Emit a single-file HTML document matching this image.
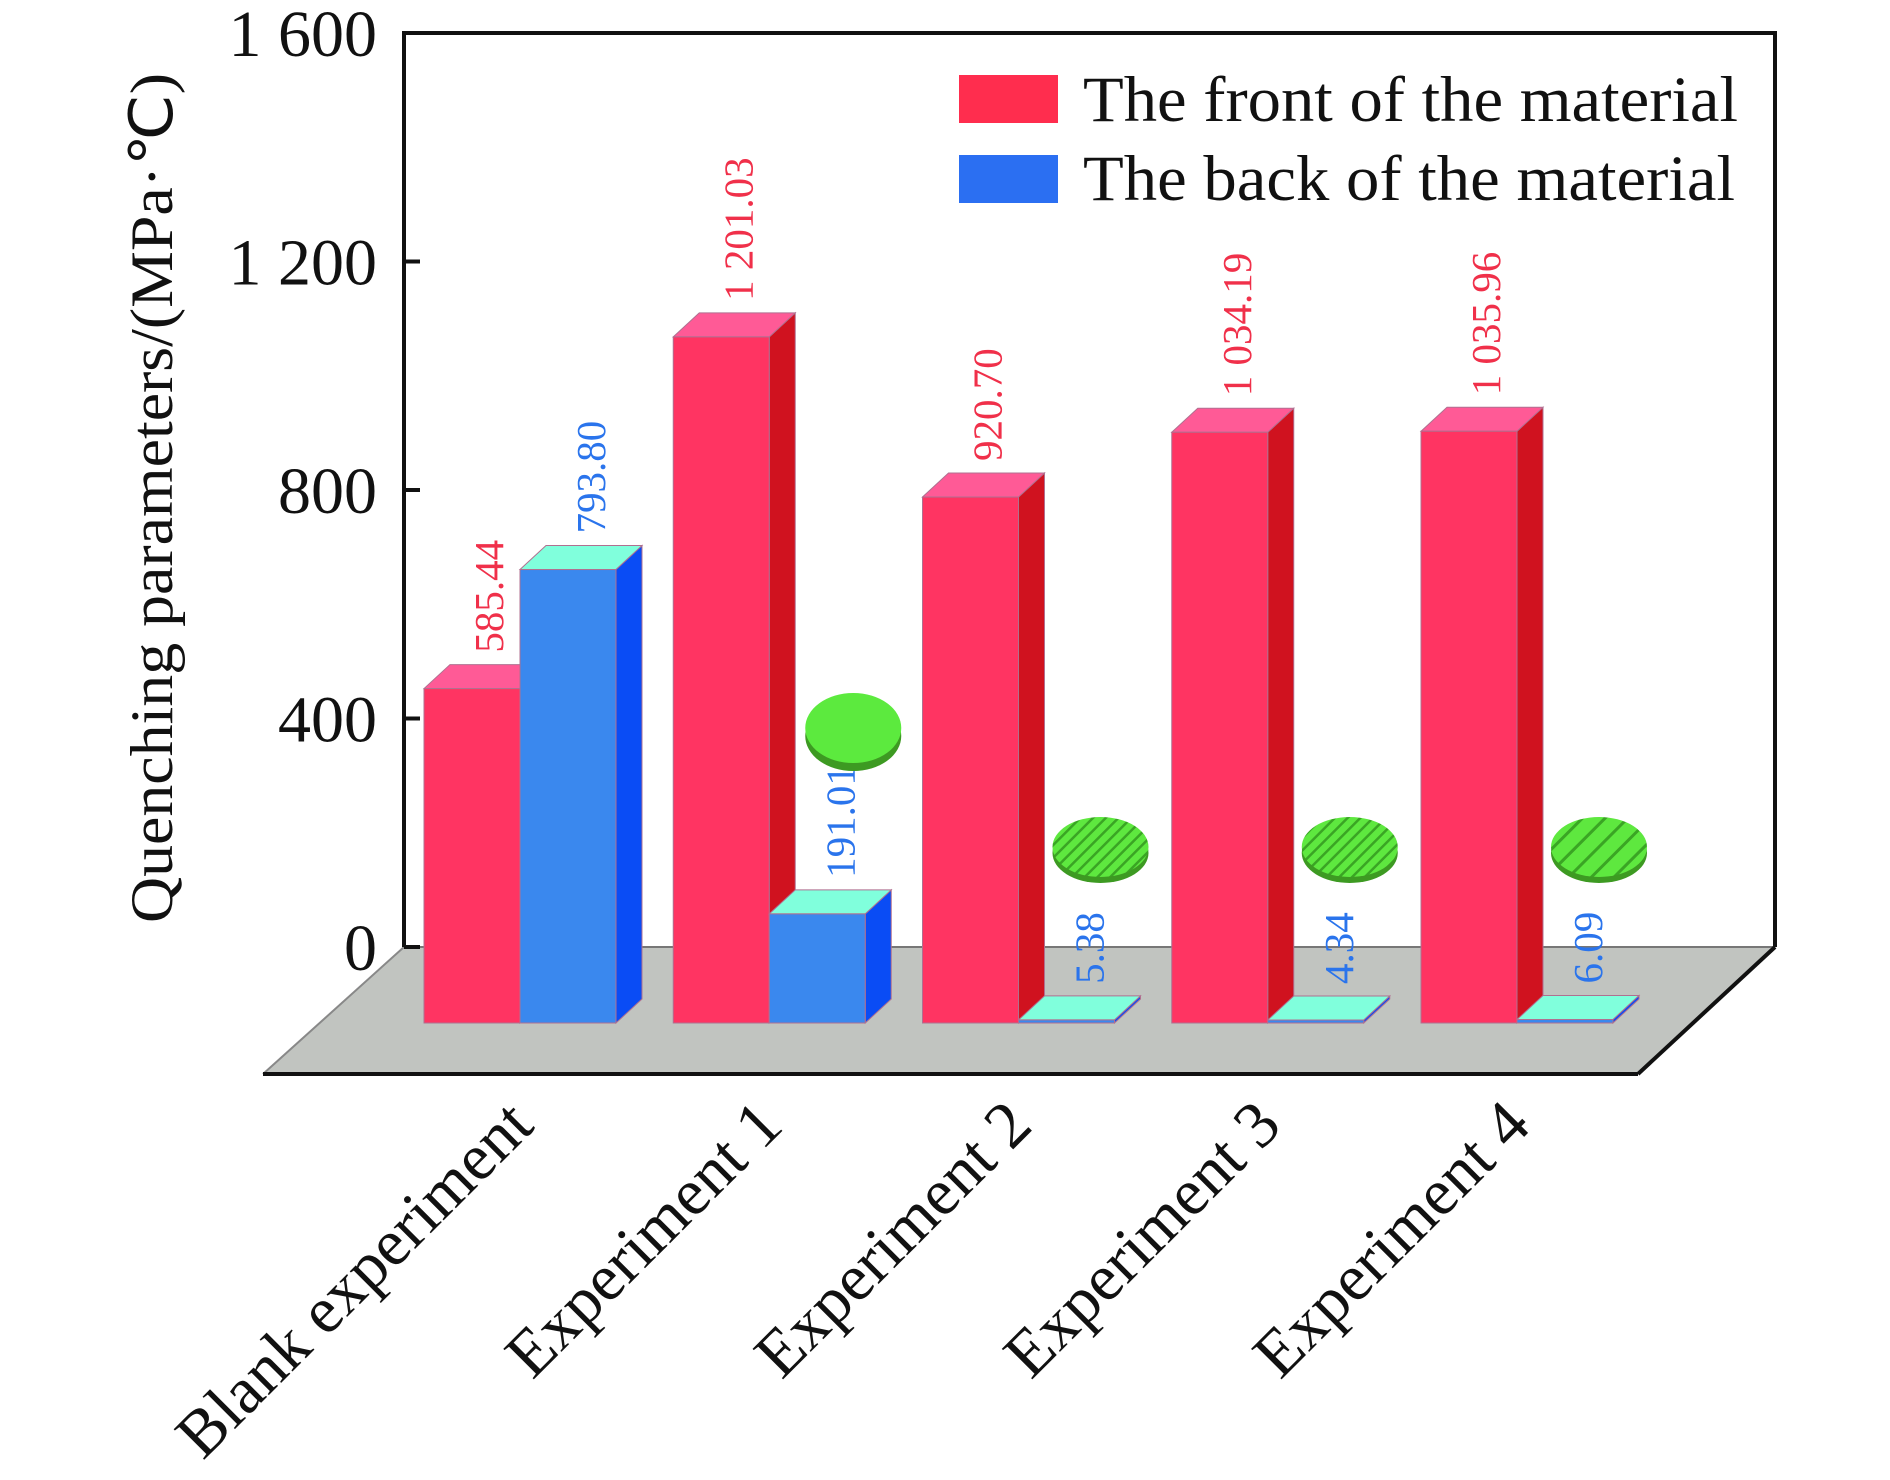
<!DOCTYPE html>
<html><head><meta charset="utf-8">
<style>
html,body{margin:0;padding:0;background:#fff;}
svg{display:block;font-family:"Liberation Serif","Times New Roman",serif;}
</style></head>
<body>
<svg id="chart" width="1890" height="1480" viewBox="0 0 1890 1480" xmlns="http://www.w3.org/2000/svg">
<defs>
<pattern id="stripes" width="9" height="9" patternUnits="userSpaceOnUse" patternTransform="rotate(45)">
<rect width="9" height="9" fill="#5ee83f"/><rect width="2.5" height="9" fill="#3aa524"/>
</pattern>
<pattern id="stripes2" width="16" height="16" patternUnits="userSpaceOnUse" patternTransform="rotate(45)">
<rect width="16" height="16" fill="#5ee83f"/><rect width="3" height="16" fill="#3aa524"/>
</pattern>
</defs>
<polygon points="404,947 1775,947 1638,1074 263,1074" fill="#c1c4c0"/>
<line x1="404" y1="947" x2="1775" y2="947" stroke="#777" stroke-width="2"/>
<line x1="404" y1="947" x2="263" y2="1074" stroke="#888" stroke-width="2"/>
<line x1="263" y1="1074" x2="1638" y2="1074" stroke="#111" stroke-width="4"/>
<line x1="1638" y1="1074" x2="1775" y2="947" stroke="#111" stroke-width="4"/>
<polyline points="404,947 404,33 1775,33 1775,947" fill="none" stroke="#111" stroke-width="4"/>
<g id="yaxis"></g>
<g id="bars"></g>
<g id="legend">
<rect x="959" y="75" width="99" height="48" fill="#ff2d4e"/>
<text x="1083" y="121" font-size="65" fill="#111" textLength="655" lengthAdjust="spacingAndGlyphs">The front of the material</text>
<rect x="959" y="155" width="99" height="48" fill="#2b6ff2"/>
<text x="1083" y="200" font-size="65" fill="#111" textLength="652" lengthAdjust="spacingAndGlyphs">The back of the material</text>
</g>
<text transform="translate(172,498) rotate(-90)" text-anchor="middle" font-size="60" fill="#111" textLength="850" lengthAdjust="spacingAndGlyphs">Quenching parameters/(MPa·℃)</text>
</svg>
<script>
const categories = ["Blank experiment","Experiment 1","Experiment 2","Experiment 3","Experiment 4"];
const frontValues = [585.44, 1201.03, 920.70, 1034.19, 1035.96];
const backValues = [793.80, 191.01, 5.38, 4.34, 6.09];
const frontLabels = ["585.44","1 201.03","920.70","1 034.19","1 035.96"];
const backLabels = ["793.80","191.01","5.38","4.34","6.09"];
const yTicks = [0, 400, 800, 1200, 1600];
const yTickLabels = ["0","400","800","1 200","1 600"];
const discTypes = ["none","plain","fine","fine","wide"];

const NS = "http://www.w3.org/2000/svg";
const PX = 228.5/400;
const axisZero = 947, barBase = 1023;
function yAxis(v){ return axisZero - v*PX; }
function barH(v){ return v*PX; }
function groupX(i){ return 424 + i*249.25; }
const BW = 96, DX = 26, DY = 24;
function mk(tag, attrs, parent){ const e=document.createElementNS(NS,tag); for(const k in attrs) e.setAttribute(k,attrs[k]); parent.appendChild(e); return e; }

const ya = document.getElementById('yaxis');
yTicks.forEach((t,i)=>{
  const y = yAxis(t);
  const tk = mk('line',{x1:404,y1:y,x2:420,y2:y,stroke:'#111','stroke-width':4},ya);
  
  
  const lb = mk('text',{x:377,y:y+23,'text-anchor':'end','font-size':66,fill:'#111'},ya);
  lb.textContent = yTickLabels[i];
  
  
});

const bars = document.getElementById('bars');
function bar3d(x, v, cFront, cTop, cSide, name){
  const h = Math.max(barH(v),3);
  const top = barBase - h;
  const g = mk('g',{},bars);
  
  
  mk('polygon',{points:`${x+BW},${barBase} ${x+BW+DX},${barBase-DY} ${x+BW+DX},${top-DY} ${x+BW},${top}`,fill:cSide,stroke:'#b07090','stroke-width':1},g);
  mk('polygon',{points:`${x},${top} ${x+DX},${top-DY} ${x+BW+DX},${top-DY} ${x+BW},${top}`,fill:cTop,stroke:'#b07090','stroke-width':1},g);
  mk('rect',{x:x,y:top,width:BW,height:h,fill:cFront,stroke:'#b07090','stroke-width':1},g);
  return top;
}
function valLabel(x, top, txt, color, name){
  const t = mk('text',{transform:`translate(${x},${top-DY-12}) rotate(-90)`,'font-size':41,fill:color},bars);
  t.textContent = txt;
  
  
}
categories.forEach((c,i)=>{
  const gx = groupX(i);
  const tf = bar3d(gx, frontValues[i], '#ff3462', '#ff5a96', '#d0121f', 'bar-front');
  valLabel(gx+79, tf, frontLabels[i], '#f0304a', 'front-value-label');
  const tb = bar3d(gx+BW, backValues[i], '#3a88ee', '#80ffdc', '#0a4cf5', 'bar-back');
  valLabel(gx+181, tb, backLabels[i], '#2a74ec', 'back-value-label');
  const cl = mk('text',{transform:`translate(${gx+112},1128) rotate(-45)`,'text-anchor':'end','font-size':66,fill:'#111'},bars);
  cl.textContent = c;
  
  
  const dt = discTypes[i];
  if(dt!=='none'){
    const dg = mk('g',{},bars);
    
    
    if(dt==='plain'){
      const cx=gx+180, cy=728;
      mk('ellipse',{cx:cx,cy:cy+8,rx:48,ry:35,fill:'#3d9a22'},dg);
      mk('ellipse',{cx:cx,cy:cy,rx:48,ry:35,fill:'#5cea3e'},dg);
    } else {
      const cx=gx+178, cy=847;
      mk('ellipse',{cx:cx,cy:cy+6,rx:48,ry:30,fill:'#3d9a22'},dg);
      mk('ellipse',{cx:cx,cy:cy,rx:48,ry:30,fill:dt==='wide'?'url(#stripes2)':'url(#stripes)'},dg);
    }
  }
});
</script>
</body></html>
